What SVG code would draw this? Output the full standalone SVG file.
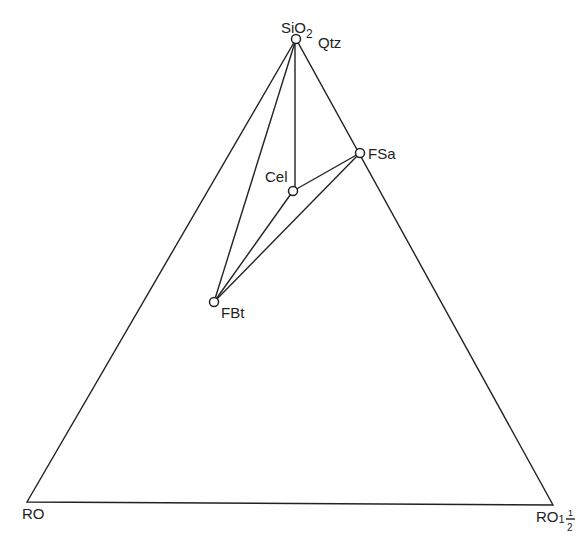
<svg xmlns="http://www.w3.org/2000/svg" width="581" height="537" viewBox="0 0 581 537">
<style>
.l{stroke:#222;stroke-width:1.4;fill:none}
.n{fill:#fff;stroke:#222;stroke-width:1.5}
.t{font-family:"Liberation Sans",Arial,sans-serif;font-size:15px;fill:#222}
</style>
<rect width="581" height="537" fill="#fff"/>
<g id="connectors">
<path class="l" d="M296,39 L27,502 L553,505 Z"/>
<line class="l" x1="296" y1="39" x2="214" y2="302"/>
<line class="l" x1="295" y1="39" x2="295" y2="188"/>
<line class="l" x1="293" y1="191" x2="360" y2="153"/>
<line class="l" x1="214" y1="302" x2="293" y2="191"/>
<line class="l" x1="214" y1="302" x2="360" y2="153"/>
</g>
<g id="SiO2">
<circle class="n" cx="296" cy="39" r="4.5"/>
<text class="t" x="281" y="33">SiO<tspan font-size="12" dy="5">2</tspan></text>
<text class="t" x="318" y="48">Qtz</text>
</g>
<g id="FSa">
<circle class="n" cx="360" cy="153" r="4.5"/>
<text class="t" x="368" y="159">FSa</text>
</g>
<g id="Cel">
<circle class="n" cx="293" cy="191" r="4.5"/>
<text class="t" x="265" y="182">Cel</text>
</g>
<g id="FBt">
<circle class="n" cx="214" cy="302" r="4.5"/>
<text class="t" x="221" y="318">FBt</text>
</g>
<g id="RO">
<text class="t" x="22" y="519">RO</text>
</g>
<g id="RO1half">
<text class="t" x="536" y="522">RO<tspan font-size="11" y="523">1</tspan><tspan font-size="9" x="568" y="516">1</tspan><tspan font-size="10" x="567" y="531">2</tspan></text>
<line class="l" x1="566" y1="519" x2="575" y2="519" stroke-width="1"/>
</g>
</svg>
